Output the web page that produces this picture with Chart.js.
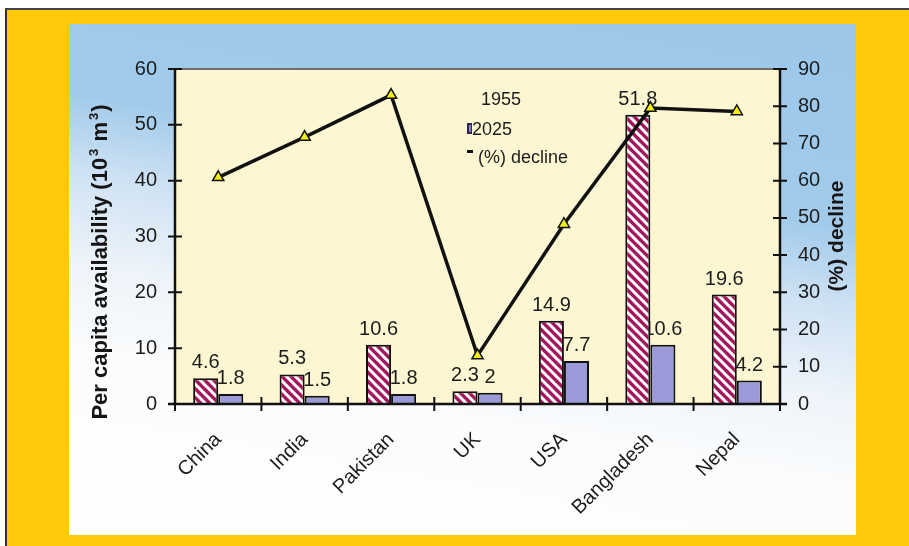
<!DOCTYPE html>
<html><head><meta charset="utf-8">
<script src="https://cdn.jsdelivr.net/npm/chart.js@4.4.0/dist/chart.umd.min.js"></script>
<style>
html,body{margin:0;padding:0;background:#fff;}
#wrap{position:relative;width:909px;height:546px;overflow:hidden;background:#fff;}
#frame{position:absolute;left:5px;top:8px;width:904px;height:538px;background:#fec90b;border-left:2px solid #333;border-top:2px solid #444;box-sizing:border-box;}
#panel{position:absolute;left:69px;top:24px;width:787px;height:511px;
 background:linear-gradient(190deg,#9cc7e9 0%,#a2cbeb 32%,#cfe2f3 44%,#eef4fa 58%,#fbfcfd 72%,#ffffff 100%);}
#box{position:absolute;left:0;top:0;width:909px;height:546px;}
</style></head>
<body>
<div id="wrap">
 <div id="frame"></div>
 <div id="panel"></div>
 <div id="box"><canvas id="cv"></canvas></div>
</div>
<script>
const categories = ['China','India','Pakistan','UK','USA','Bangladesh','Nepal'];
const avail1955 = [4.6, 5.3, 10.6, 2.3, 14.9, 51.8, 19.6];
const avail2025 = [1.8, 1.5, 1.8, 2, 7.7, 10.6, 4.2];
const declinePct = [60.9, 71.7, 83.0, 13.0, 48.3, 79.5, 78.6];
const legendLabels = ['1955', '2025', '(%) decline'];
const leftTitleParts = ['Per capita availability (10', '3', ' m', '3', ')'];
const rightTitle = '(%) decline';

const FONT = "'Liberation Sans', Arial, Helvetica, sans-serif";

function stripePattern() {
  const c = document.createElement('canvas');
  c.width = 9; c.height = 9;
  const g = c.getContext('2d');
  g.fillStyle = '#a3175c';
  g.fillRect(0, 0, 9, 9);
  g.strokeStyle = '#ffffff';
  g.lineWidth = 3;
  g.beginPath();
  g.moveTo(-2, -2); g.lineTo(11, 11);
  g.moveTo(-2, 7); g.lineTo(2, 11);
  g.moveTo(7, -2); g.lineTo(11, 2);
  g.stroke();
  return g.createPattern(c, 'repeat');
}

const decor = {
  id: 'decor',
  beforeDraw(chart) {
    const {ctx, chartArea: a} = chart;
    ctx.save();
    ctx.fillStyle = '#fcf7d2';
    ctx.fillRect(a.left, a.top, a.right - a.left, a.bottom - a.top);
    ctx.restore();
  },
  beforeDatasetsDraw(chart) {
    const ctx = chart.ctx;
    ctx.save();
    ctx.font = '20px ' + FONT;
    ctx.fillStyle = '#1c1c1c';
    ctx.textAlign = 'center';
    ctx.textBaseline = 'alphabetic';
    [[0, avail1955], [1, avail2025]].forEach(([di, arr]) => {
      const meta = chart.getDatasetMeta(di);
      meta.data.forEach((bar, j) => {
        ctx.fillText(String(arr[j]), bar.x, bar.y - 10);
      });
    });
    ctx.restore();
  },
  afterDatasetsDraw(chart) {
    const {ctx, chartArea: a, scales} = chart;
    ctx.save();
    ctx.strokeStyle = '#6e6e6e';
    ctx.lineWidth = 2;
    ctx.beginPath(); ctx.moveTo(a.left, a.top); ctx.lineTo(a.right, a.top); ctx.stroke();
    ctx.strokeStyle = '#111';
    ctx.lineWidth = 2.5;
    ctx.beginPath();
    ctx.moveTo(a.left, a.top); ctx.lineTo(a.left, a.bottom);
    ctx.moveTo(a.right, a.top); ctx.lineTo(a.right, a.bottom);
    ctx.moveTo(a.left - 7, a.bottom); ctx.lineTo(a.right + 7, a.bottom);
    ctx.stroke();
    ctx.lineWidth = 2;
    ctx.beginPath();
    scales.y.ticks.forEach(t => {
      const y = scales.y.getPixelForValue(t.value);
      ctx.moveTo(a.left - 7, y); ctx.lineTo(a.left + 7, y);
    });
    scales.y1.ticks.forEach(t => {
      const y = scales.y1.getPixelForValue(t.value);
      ctx.moveTo(a.right - 7, y); ctx.lineTo(a.right + 7, y);
    });
    const n = categories.length;
    const half = (scales.x.getPixelForValue(1) - scales.x.getPixelForValue(0)) / 2;
    for (let i = 0; i <= n; i++) {
      const x = i < n ? scales.x.getPixelForValue(i) - half : a.right;
      ctx.moveTo(x, a.bottom - 7); ctx.lineTo(x, a.bottom + 7);
    }
    ctx.stroke();
    // legend
    ctx.font = '18px ' + FONT;
    ctx.fillStyle = '#1c1c1c';
    ctx.textAlign = 'left';
    ctx.textBaseline = 'alphabetic';
    ctx.fillText(legendLabels[0], 481, 105);
    ctx.fillText(legendLabels[1], 472, 135);
    ctx.fillText(legendLabels[2], 478, 163);
    ctx.fillStyle = '#2d2450';
    ctx.fillRect(467, 123, 5, 11);
    ctx.fillStyle = '#8e86c0';
    ctx.fillRect(469, 125, 2, 7);
    ctx.fillStyle = '#111';
    ctx.fillRect(467, 150, 6, 3);
    ctx.restore();
  },
  afterDraw(chart) {
    const ctx = chart.ctx;
    ctx.save();
    ctx.fillStyle = '#151515';
    ctx.translate(107, 262);
    ctx.rotate(-Math.PI / 2);
    const big = 'bold 22px ' + FONT, small = 'bold 13px ' + FONT;
    const widths = leftTitleParts.map((p, i) => {
      ctx.font = (i % 2 === 1) ? small : big;
      return ctx.measureText(p).width + ((i % 2 === 1) ? 3 : 0);
    });
    const total = widths.reduce((s, w) => s + w, 0);
    let x = -total / 2;
    ctx.textBaseline = 'alphabetic';
    ctx.textAlign = 'left';
    leftTitleParts.forEach((p, i) => {
      const sup = i % 2 === 1;
      ctx.font = sup ? small : big;
      ctx.fillText(p, x + (sup ? 2 : 0), sup ? -9 : 0);
      x += widths[i];
    });
    ctx.restore();
    ctx.save();
    ctx.fillStyle = '#151515';
    ctx.translate(843, 236);
    ctx.rotate(-Math.PI / 2);
    ctx.font = 'bold 21px ' + FONT;
    ctx.textAlign = 'center';
    ctx.textBaseline = 'alphabetic';
    ctx.fillText(rightTitle, 0, 0);
    ctx.restore();
  }
};

const ctx = document.getElementById('cv').getContext('2d');
new Chart(ctx, {
  data: {
    labels: categories,
    datasets: [
      { type: 'bar', label: legendLabels[0], data: avail1955, yAxisID: 'y', order: 1,
        backgroundColor: stripePattern(), borderColor: '#111', borderWidth: 2,
        categoryPercentage: 0.58, barPercentage: 1.0 },
      { type: 'bar', label: legendLabels[1], data: avail2025, yAxisID: 'y', order: 1,
        backgroundColor: '#9a9ad8', borderColor: '#111', borderWidth: 2,
        categoryPercentage: 0.58, barPercentage: 1.0 },
      { type: 'line', label: legendLabels[2], data: declinePct, yAxisID: 'y1', order: 0,
        borderColor: '#111', borderWidth: 3.5, tension: 0,
        pointStyle: 'triangle', pointRadius: 6.5, pointBackgroundColor: '#f2ee10',
        pointBorderColor: '#111', pointBorderWidth: 1.5 }
    ]
  },
  options: {
    responsive: true, maintainAspectRatio: false, devicePixelRatio: 1, animation: false,
    layout: { padding: { top: 69, left: 0, right: 0, bottom: 0 } },
    plugins: { legend: { display: false }, tooltip: { enabled: false }, title: { display: false } },
    scales: {
      x: {
        type: 'category', offset: true,
        grid: { display: false, drawTicks: false }, border: { display: false },
        ticks: { font: { family: FONT, size: 20 }, color: '#1c1c1c', maxRotation: 45, minRotation: 45, padding: 24, autoSkip: false },
        afterFit(s) { s.height = 142; }
      },
      y: {
        position: 'left', min: 0, max: 60,
        grid: { display: false, drawTicks: false }, border: { display: false },
        ticks: { stepSize: 10, font: { family: FONT, size: 20 }, color: '#1c1c1c', padding: 18 },
        afterFit(s) { s.width = 175; }
      },
      y1: {
        position: 'right', min: 0, max: 90,
        grid: { display: false, drawTicks: false }, border: { display: false },
        ticks: { stepSize: 10, font: { family: FONT, size: 20 }, color: '#1c1c1c', padding: 18 },
        afterFit(s) { s.width = 129; }
      }
    }
  },
  plugins: [decor]
});
</script>
</body></html>
